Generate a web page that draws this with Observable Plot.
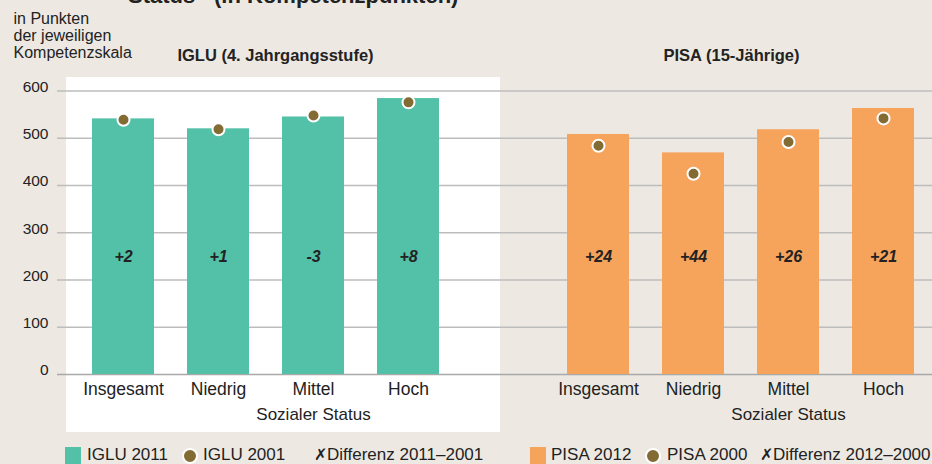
<!DOCTYPE html>
<html>
<head>
<meta charset="utf-8">
<script src="https://cdn.jsdelivr.net/npm/d3@7"></script>
<script src="https://cdn.jsdelivr.net/npm/@observablehq/plot@0.6"></script>
<style>
  html, body { margin: 0; padding: 0; background: #ede9e2; overflow: hidden; }
  #wrap { position: relative; width: 932px; height: 464px; font-family: "Liberation Sans", Arial, sans-serif; color: #222; }
  #title { position: absolute; left: 0; top: -15px; width: 932px; height: 22px; font-size: 22px; line-height: 22px; font-weight: bold; color: #222; }
  #title span { position: absolute; top: 0; white-space: nowrap; }
  #title sup { font-size: 13px; vertical-align: top; position: relative; top: -4px; }
  #legend { position: absolute; left: 0; top: 440px; width: 932px; height: 24px; font-size: 17px; color: #222; }
  #legend span { position: absolute; top: 5px; white-space: nowrap; line-height: 20px; }
  #legend .sq { width: 16px; height: 20px; top: 7px; }
  #legend .dot { width: 12px; height: 12px; border-radius: 50%; border: 2px solid #fff; top: 8px; }
  #legend .x { font-family: "DejaVu Sans", sans-serif; font-weight: bold; font-style: italic; font-size: 16px; }
</style>
</head>
<body>
<div id="wrap">
  <div id="title"><span style="left:128px">Status<sup>1</sup></span><span style="left:214px">(in Kompetenzpunkten)</span></div>
  <div id="chart"></div>
  <div id="legend"></div>
</div>
<script>
// ---- data ----
const statusLabels = ["Insgesamt", "Niedrig", "Mittel", "Hoch"];
const iglu2011 = [541, 520, 545, 584];
const iglu2001 = [539, 519, 548, 576];
const igluDiff = ["+2", "+1", "-3", "+8"];
const pisa2012 = [508, 469, 518, 563];
const pisa2000 = [484, 425, 492, 542];
const pisaDiff = ["+24", "+44", "+26", "+21"];
const yTicks = [0, 100, 200, 300, 400, 500, 600];
const panelTitles = ["IGLU (4. Jahrgangsstufe)", "PISA (15-Jährige)"];
const xAxisTitle = "Sozialer Status";
const yAxisTitle = "in Punkten\nder jeweiligen\nKompetenzskala";
const diffLabelLevel = 250;
const legendItems = [
  ["sq", "#53c0a8", "IGLU 2011"], ["dot", "#836c33", "IGLU 2001"], ["x", null, "Differenz 2011–2001"],
  ["sq", "#f6a35c", "PISA 2012"], ["dot", "#836c33", "PISA 2000"], ["x", null, "Differenz 2012–2000"]
];

const colIGLU = "#53c0a8", colPISA = "#f6a35c", colDot = "#836c33";
const GAP = "gap|";
const key = (s, c) => s + "|" + c;
const domain = [...statusLabels.map(c => key("I", c)), GAP, ...statusLabels.map(c => key("P", c))];

const rows = [];
statusLabels.forEach((c, i) => rows.push({k: key("I", c), now: iglu2011[i], then: iglu2001[i], diff: igluDiff[i], color: colIGLU}));
statusLabels.forEach((c, i) => rows.push({k: key("P", c), now: pisa2012[i], then: pisa2000[i], diff: pisaDiff[i], color: colPISA}));

// white background panel behind the IGLU group, placed from the scales
function whitePanel(index, scales) {
  const x = scales.x, y = scales.y;
  const bw = x.bandwidth ? x.bandwidth() : 62;
  const left = x(domain[0]) - 26;
  const right = x(GAP) + bw / 2 - 3;
  const top = y(600) - 13.5;
  const bottom = y(0) + 58;
  const r = d3.create("svg:rect")
    .attr("x", left).attr("y", top)
    .attr("width", right - left).attr("height", bottom - top)
    .attr("fill", "#ffffff");
  return r.node();
}

const titleStyle = {frameAnchor: "top", lineAnchor: "middle", dy: -35, fontSize: 16.5, fontWeight: "bold"};

const chart = Plot.plot({
  width: 932,
  height: 440,
  marginTop: 90.5,
  marginBottom: 66,
  marginLeft: 74,
  marginRight: 0,
  style: {background: "transparent", fontFamily: "'Liberation Sans', Arial, sans-serif", color: "#222"},
  x: {domain, paddingInner: 0.35, paddingOuter: 0.175, axis: null},
  y: {domain: [0, 600], axis: null},
  marks: [
    whitePanel,
    Plot.ruleY(yTicks, {y: d => d, stroke: d => d === 0 ? "#a9a9a9" : "#bdbdbd", strokeWidth: 1.6, insetLeft: -17}),
    Plot.axisY({ticks: yTicks, tickSize: 0, tickPadding: 26, dy: -4, fontSize: 15.5, label: null}),
    Plot.axisX({ticks: domain.filter(d => d !== GAP), tickFormat: d => d.split("|")[1], tickSize: 0, tickPadding: 8, fontSize: 17.5, label: null}),
    Plot.barY(rows, {x: "k", y: "now", fill: "color"}),
    Plot.dot(rows, {x: "k", y: "then", r: 6, fill: colDot, stroke: "#fff", strokeWidth: 2}),
    Plot.text(rows, {x: "k", y: () => diffLabelLevel, text: "diff", fontSize: 16, fontWeight: "bold", fontStyle: "italic", fill: "#222"}),
    Plot.text([key("I", "Mittel"), key("P", "Mittel")], {x: d => d, text: () => xAxisTitle, frameAnchor: "bottom", lineAnchor: "middle", dy: 40, fontSize: 17}),
    Plot.text([panelTitles[0]], {x: () => key("I", "Niedrig"), text: d => d, dx: 57, ...titleStyle}),
    Plot.text([panelTitles[1]], {x: () => key("P", "Niedrig"), text: d => d, dx: 38, ...titleStyle}),
    Plot.text([yAxisTitle], {text: d => d, frameAnchor: "top-left", textAnchor: "start", lineAnchor: "top", dx: -61, dy: -79, fontSize: 16, lineHeight: 1.07})
  ]
});
document.getElementById("chart").appendChild(chart);

// legend
const legendPos = [[65, 87], [182, 203], [314, 327], [530, 551], [645, 667], [760, 773]];
const legend = document.getElementById("legend");
legendItems.forEach(([type, color, label], i) => {
  const m = document.createElement("span");
  if (type === "x") { m.className = "x"; m.textContent = "✗"; }
  else { m.className = type; m.style.background = color; }
  m.style.left = legendPos[i][0] + "px";
  legend.appendChild(m);
  const t = document.createElement("span");
  t.textContent = label;
  t.style.left = legendPos[i][1] + "px";
  legend.appendChild(t);
});
</script>
</body>
</html>
